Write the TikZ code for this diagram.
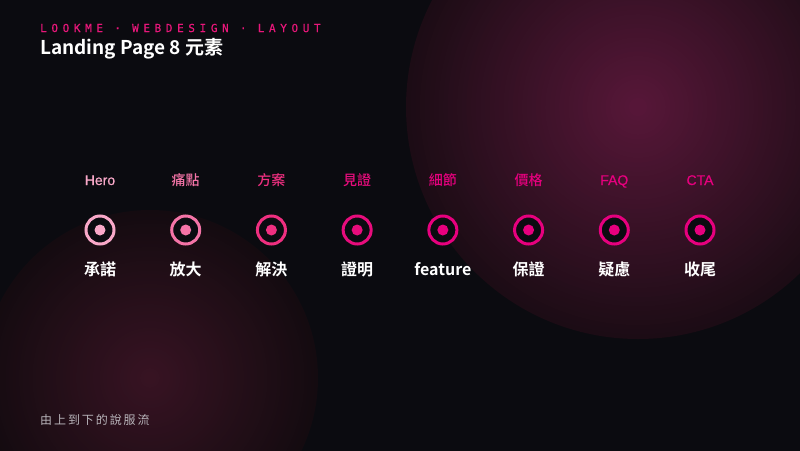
\documentclass[tikz,border=0pt]{standalone}
\usepackage{fontspec}
\setmainfont{Noto Sans CJK TC}
\newfontfamily\cjk{Noto Sans CJK TC Medium}
\newfontfamily\cjkb{Noto Sans CJK TC Bold}
\newfontfamily\arial[FakeBold=0.5]{Liberation Sans}
\newfontfamily\hdr[LetterSpace=42,FakeBold=0.4]{DejaVu Sans Mono}
\newfontfamily\ftr[LetterSpace=16]{Noto Sans CJK TC}
\definecolor{bg}{HTML}{0B0B10}
\definecolor{g1in}{HTML}{581739}
\definecolor{g1out}{HTML}{1C0C15}
\definecolor{g2in}{HTML}{381323}
\definecolor{g2out}{HTML}{140B10}
\definecolor{c1}{HTML}{F8A8C8}
\definecolor{c2}{HTML}{F474A7}
\definecolor{c3}{HTML}{EF2F80}
\definecolor{c4}{HTML}{E80C7C}
\definecolor{c5}{HTML}{E6007E}
\definecolor{hdrc}{HTML}{E8177A}
\definecolor{ftrc}{HTML}{B8B4BA}
\begin{document}
\begin{tikzpicture}[x=1pt,y=-1pt,
  ring/.style={circle, draw=#1, line width=3pt, fill=bg, minimum size=28pt, inner sep=0pt},
  dotc/.style={circle, fill=#1, minimum size=11pt, inner sep=0pt},
  toplab/.style={text=#1, inner sep=0pt, anchor=base},
  botlab/.style={text=white, font=\cjkb\fontsize{16}{18}\selectfont, inner sep=0pt, anchor=base}]
\useasboundingbox (0,0) rectangle (800,450);
\fill[bg] (-2,-2) rectangle (802,452);
\begin{scope}
\clip (-2,-2) rectangle (802,452);
\foreach \k in {0,...,48}{
  \pgfmathsetmacro{\rr}{232*(1-\k/50)}
  \pgfmathsetmacro{\pp}{\k*2}
  \fill[g1in!\pp!g1out] (638,107) circle[radius=\rr];
}
\foreach \k in {0,...,48}{
  \pgfmathsetmacro{\rr}{168*(1-\k/50)}
  \pgfmathsetmacro{\pp}{\k*2}
  \fill[g2in!\pp!g2out] (150,378) circle[radius=\rr];
}
\end{scope}
\node[anchor=west, text=hdrc, font=\hdr\fontsize{11}{13}\selectfont, inner sep=0pt] (hdr) at (40,28) {LOOKME · WEBDESIGN · LAYOUT};
\node[anchor=west, text=white, font=\cjkb\fontsize{19}{21}\selectfont, inner sep=0pt] (title) at (40,49) {Landing Page 8 元素};
\node[anchor=west, text=ftrc, font=\ftr\fontsize{12}{14}\selectfont, inner sep=0pt] (ftr) at (40,420) {由上到下的說服流};
\foreach \i/\c/\t/\b/\f in {0/c1/Hero/承諾/arial, 1/c2/痛點/放大/cjk, 2/c3/方案/解決/cjk, 3/c4/見證/證明/cjk, 4/c5/細節/feature/cjk, 5/c5/價格/保證/cjk, 6/c5/FAQ/疑慮/arial, 7/c5/CTA/收尾/arial}{
  \pgfmathsetmacro{\xx}{100+85.714*\i}
  \node[ring=\c] (r\i) at (\xx,230) {};
  \node[dotc=\c] (d\i) at (r\i.center) {};
  \node[toplab=\c, font=\csname\f\endcsname\fontsize{14}{16}\selectfont] (t\i) at (\xx,185) {\t};
  \node[botlab] (b\i) at (\xx,275) {\b};
}
\end{tikzpicture}
\end{document}
